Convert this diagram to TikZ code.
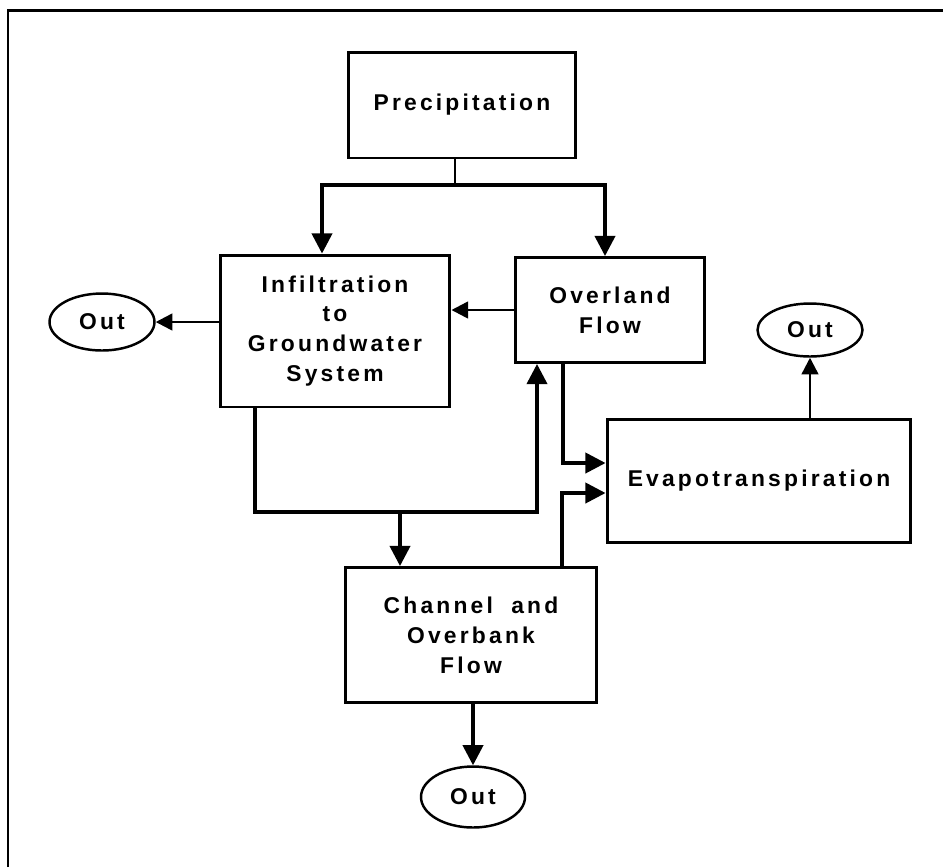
\documentclass[tikz,border=0pt]{standalone}
\usepackage{fontspec}
\usetikzlibrary{arrows.meta,shapes.geometric}
\newfontfamily\flowfont{Liberation Sans}[LetterSpace=14]

\begin{document}
\begin{tikzpicture}[x=0.02cm,y=-0.02cm,
    every node/.style={font=\flowfont\bfseries\fontsize{13}{17}\selectfont, align=center},
    box/.style={draw, line width=1.7pt, inner sep=0pt},
    outlet/.style={draw, ellipse, line width=1.4pt, inner sep=0pt},
    flow/.style={line width=2pt, -{Triangle[length=11.5pt,width=11.5pt]}},
    link/.style={line width=1.4pt, -{Triangle[length=9.5pt,width=9.5pt]}}]
  \useasboundingbox (0,0) rectangle (943,867);
  \draw[line width=1.7pt] (8,867) -- (8,10) -- (943,10);

  \node[box, minimum width=4.56cm, minimum height=2.12cm] (prec) at (462,105) {Precipitation};
  \node[box, minimum width=4.6cm, minimum height=3.04cm] (infil) at (335,331) {Infiltration\\to\\Groundwater\\System};
  \node[box, minimum width=3.8cm, minimum height=2.1cm] (over) at (610,310) {Overland\\Flow};
  \node[box, minimum width=6.08cm, minimum height=2.46cm] (evap) at (759,481) {Evapotranspiration};
  \node[box, minimum width=5.02cm, minimum height=2.7cm] (chan) at (471,635) {Channel\hspace{0.8em}and\\Overbank\\Flow};
  \node[outlet, minimum width=2.1cm, minimum height=1.14cm] (outL) at (102,322) {Out};
  \node[outlet, minimum width=2.1cm, minimum height=1.06cm] (outR) at (810,330) {Out};
  \node[outlet, minimum width=2.08cm, minimum height=1.22cm] (outB) at (473,797) {Out};

  \coordinate (split) at (455,185);
  \coordinate (splitL) at (322,185);
  \coordinate (splitR) at (605,185);
  \coordinate (loopL) at (255,512);
  \coordinate (loopM) at (400,512);
  \coordinate (loopR) at (537,512);
  \coordinate (ovE) at (563,463);
  \coordinate (chE) at (562,493);

  \draw[line width=1.4pt] (prec.south -| split) -- (split);
  \draw[flow] (split) -| (infil.north -| splitL);
  \draw[flow] (split) -| (over.north -| splitR);
  \draw[link] (over.west) -- (over.west -| infil.east);
  \draw[link] (infil.west |- outL) -- (outL.east);
  \draw[flow] (infil.south -| loopL) |- (loopR) -- (over.south -| loopR);
  \draw[flow] (loopM) -- (chan.north -| loopM);
  \draw[flow] (over.south -| ovE) |- (evap.west |- ovE);
  \draw[flow] (chan.north -| chE) |- (evap.west |- chE);
  \draw[link] (evap.north -| outR) -- (outR.south);
  \draw[flow] (chan.south -| outB) -- (outB.north);
\end{tikzpicture}
\end{document}
